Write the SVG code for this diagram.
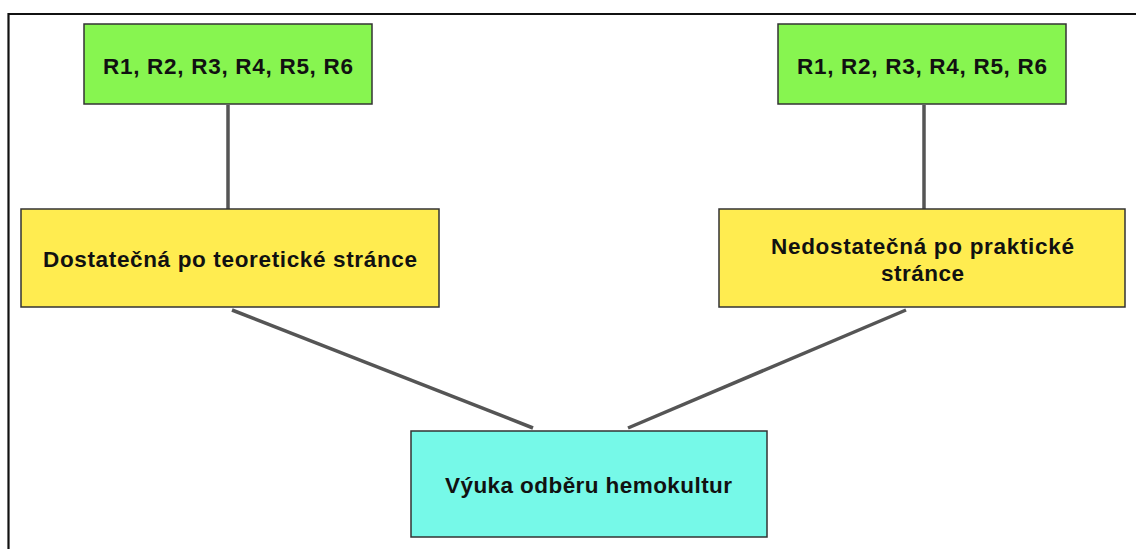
<svg xmlns="http://www.w3.org/2000/svg" width="1136" height="549" viewBox="0 0 1136 549">
<style>
.box{stroke:#333;stroke-width:1.5}
.g{fill:#87f550}.y{fill:#ffec50}.c{fill:#76f9e8}
.t{font-family:"Liberation Sans",Arial,sans-serif;font-weight:bold;font-size:22.5px;fill:#111;text-anchor:middle}
.conn line{stroke:#555;stroke-width:3.5;stroke-linecap:butt}
</style>
<rect width="1136" height="549" fill="#fff"/>
<path d="M8.5 549 V14 H1136" fill="none" stroke="#111" stroke-width="2.2"/>
<g id="connectors" class="conn">
<line x1="228" y1="105" x2="228" y2="209"/>
<line x1="924" y1="105" x2="924" y2="209"/>
<line x1="232" y1="310" x2="533" y2="428"/>
<line x1="906" y1="310" x2="628" y2="428"/>
</g>
<g id="r-left">
<rect class="box g" x="84" y="24" width="288" height="80"/>
<text class="t" x="228" y="73.5" textLength="250" lengthAdjust="spacing">R1, R2, R3, R4, R5, R6</text>
</g>
<g id="r-right">
<rect class="box g" x="778" y="24" width="288" height="80"/>
<text class="t" x="922" y="73.5" textLength="250" lengthAdjust="spacing">R1, R2, R3, R4, R5, R6</text>
</g>
<g id="teoreticka">
<rect class="box y" x="21" y="209" width="418" height="98"/>
<text class="t" x="230" y="267" textLength="374" lengthAdjust="spacing">Dostatečná po teoretické stránce</text>
</g>
<g id="prakticka">
<rect class="box y" x="719" y="209" width="406" height="98"/>
<text class="t" x="922.5" y="253.5" textLength="303" lengthAdjust="spacing">Nedostatečná po praktické</text>
<text class="t" x="922.5" y="281" textLength="83" lengthAdjust="spacing">stránce</text>
</g>
<g id="vyuka">
<rect class="box c" x="411" y="431" width="356" height="106"/>
<text class="t" x="588.5" y="493" textLength="287" lengthAdjust="spacing">Výuka odběru hemokultur</text>
</g>
</svg>
